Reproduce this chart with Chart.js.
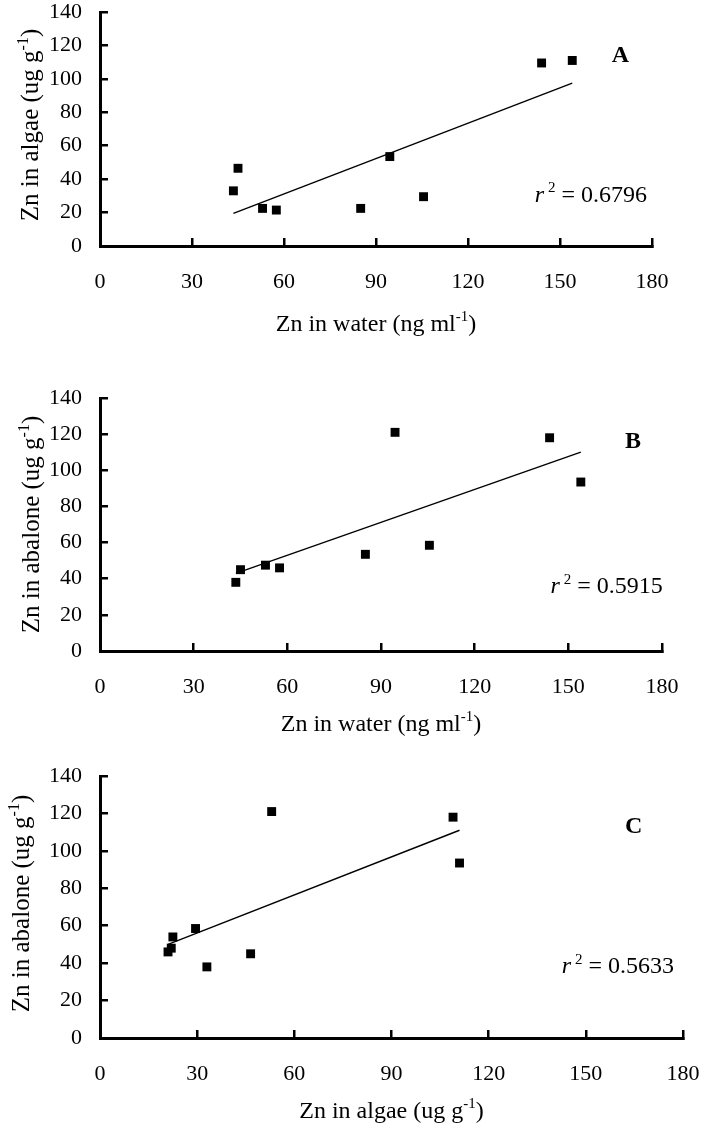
<!DOCTYPE html>
<html>
<head>
<meta charset="utf-8">
<script src="https://cdn.jsdelivr.net/npm/chart.js@4.4.0/dist/chart.umd.min.js"></script>
<style>
body{margin:0;background:#fff;width:705px;height:1126px;position:relative;overflow:hidden}
canvas{position:absolute;left:0}
</style>
</head>
<body>
<canvas id="chartA" width="705" height="350" style="top:0px"></canvas>
<canvas id="chartB" width="705" height="400" style="top:350px"></canvas>
<canvas id="chartC" width="705" height="376" style="top:750px"></canvas>
<script>
// Zn in water, same sites for panel A and B
const waterZn = [43.5, 45, 53, 57.5, 85, 94.5, 105.5, 144, 154];
// panel A: Zn in algae
const algaeZnA = [33, 46.5, 22.5, 21.5, 22.5, 53.5, 29.5, 109.5, 111];
// panel B: Zn in abalone
const abaloneZnB = [38, 45, 47.5, 46, 53.5, 121, 58.5, 118, 93.5];
// panel C: algae vs abalone
const algaeZnC = [21, 22, 22.5, 29.5, 33, 46.5, 53, 109, 111];
const abaloneZnC = [46, 48, 54, 58.5, 38, 45, 121, 118, 93.5];
// regression lines (end points)
const trendA = [[43.5, 19.5], [154, 97.5]];
const trendB = [[43.5, 43], [154, 110]];
const trendC = [[21, 50], [111, 111]];
const r2Values = ['0.6796', '0.5915', '0.5633'];
const panelLetters = ['A', 'B', 'C'];

const serif = '"Liberation Serif", "Times New Roman", serif';

function drawRich(ctx, parts, x, y, align, size) {
  const supSize = Math.round(size * 0.62);
  const fontOf = p => (p.italic ? 'italic ' : '') + (p.sup ? supSize : size) + 'px ' + serif;
  let w = 0;
  parts.forEach(p => { ctx.font = fontOf(p); w += ctx.measureText(p.t).width; });
  let cx = align === 'center' ? x - w / 2 : x;
  ctx.textAlign = 'left';
  ctx.textBaseline = 'alphabetic';
  parts.forEach(p => {
    ctx.font = fontOf(p);
    ctx.fillText(p.t, cx, p.sup ? y - size * 0.4 : y);
    cx += ctx.measureText(p.t).width;
  });
}

const figText = {
  id: 'figText',
  afterDraw(chart, args, o) {
    const {ctx, chartArea: a, scales: {x, y}} = chart;
    ctx.save();
    ctx.fillStyle = '#000';
    drawRich(ctx, o.xTitle, (a.left + a.right) / 2, a.bottom + o.xTitleGap, 'center', 24);
    ctx.save();
    ctx.translate(o.yTitleX, (a.top + a.bottom) / 2 + o.yTitleShift);
    ctx.rotate(-Math.PI / 2);
    drawRich(ctx, o.yTitle, 0, 0, 'center', 25);
    ctx.restore();
    ctx.font = 'bold 24px ' + serif;
    ctx.textAlign = 'center';
    ctx.textBaseline = 'alphabetic';
    ctx.fillText(o.letter, x.getPixelForValue(o.letterAt[0]), y.getPixelForValue(o.letterAt[1]));
    drawRich(ctx, [{t: 'r', italic: true}, {t: ' 2', sup: true}, {t: ' = ' + o.r2}],
      x.getPixelForValue(o.r2At[0]), y.getPixelForValue(o.r2At[1]), 'left', 24);
    ctx.restore();
  }
};

function makeChart(id, c) {
  return new Chart(document.getElementById(id), {
    type: 'scatter',
    data: {
      datasets: [{
        data: c.xs.map((v, i) => ({x: v, y: c.ys[i]})),
        pointStyle: 'rect',
        pointRadius: 6.3,
        pointHoverRadius: 6.3,
        backgroundColor: '#000',
        borderColor: '#000',
        borderWidth: 0
      }, {
        data: c.trend.map(p => ({x: p[0], y: p[1]})),
        showLine: true,
        borderColor: '#000',
        borderWidth: 1.4,
        pointRadius: 0,
        fill: false
      }]
    },
    options: {
      responsive: false,
      animation: false,
      events: [],
      layout: {padding: {top: c.padTop, right: c.padRight, left: 0, bottom: 0}},
      plugins: {
        legend: {display: false},
        tooltip: {enabled: false},
        figText: c.text
      },
      scales: {
        x: {
          type: 'linear', min: 0, max: 180,
          ticks: {stepSize: 30, padding: 33.5, maxRotation: 0, color: '#000',
                  font: {family: serif, size: 22, lineHeight: 1}},
          grid: {drawOnChartArea: false, drawTicks: true, tickLength: -8, lineWidth: 2.5, color: '#000'},
          border: {display: true, width: 3, color: '#000'},
          afterFit(s) { s.height = c.xAxisH; s.paddingLeft = 0; s.paddingRight = 0; }
        },
        y: {
          type: 'linear', min: 0, max: 140,
          ticks: {stepSize: 20, padding: 26, color: '#000',
                  font: {family: serif, size: 22, lineHeight: 1}},
          grid: {drawOnChartArea: false, drawTicks: true, tickLength: -8, lineWidth: 2.5, color: '#000'},
          border: {display: true, width: 3, color: '#000'},
          afterFit(s) { s.width = 100; s.paddingTop = 0; s.paddingBottom = 0; }
        }
      }
    },
    plugins: [figText]
  });
}

makeChart('chartA', {
  xs: waterZn, ys: algaeZnA, trend: trendA,
  padTop: 12, padRight: 53, xAxisH: 104,
  text: {
    xTitle: [{t: 'Zn in water (ng ml'}, {t: '-1', sup: true}, {t: ')'}],
    yTitle: [{t: 'Zn in algae (ug g'}, {t: '-1', sup: true}, {t: ')'}],
    xTitleGap: 85, yTitleX: 38, yTitleShift: -4,
    letter: panelLetters[0], letterAt: [169.7, 110.3],
    r2: r2Values[0], r2At: [141.8, 26.5]
  }
});

makeChart('chartB', {
  xs: waterZn, ys: abaloneZnB, trend: trendB,
  padTop: 48, padRight: 43, xAxisH: 99,
  text: {
    xTitle: [{t: 'Zn in water (ng ml'}, {t: '-1', sup: true}, {t: ')'}],
    yTitle: [{t: 'Zn in abalone (ug g'}, {t: '-1', sup: true}, {t: ')'}],
    xTitleGap: 80, yTitleX: 39, yTitleShift: 0,
    letter: panelLetters[1], letterAt: [170.7, 112.2],
    r2: r2Values[1], r2At: [144.3, 31.9]
  }
});

makeChart('chartC', {
  xs: algaeZnC, ys: abaloneZnC, trend: trendC,
  padTop: 26, padRight: 22, xAxisH: 88,
  text: {
    xTitle: [{t: 'Zn in algae (ug g'}, {t: '-1', sup: true}, {t: ')'}],
    yTitle: [{t: 'Zn in abalone (ug g'}, {t: '-1', sup: true}, {t: ')'}],
    xTitleGap: 80, yTitleX: 29, yTitleShift: -3.5,
    letter: panelLetters[2], letterAt: [164.8, 109.4],
    r2: r2Values[2], r2At: [142.6, 34.6]
  }
});
</script>
</body>
</html>
